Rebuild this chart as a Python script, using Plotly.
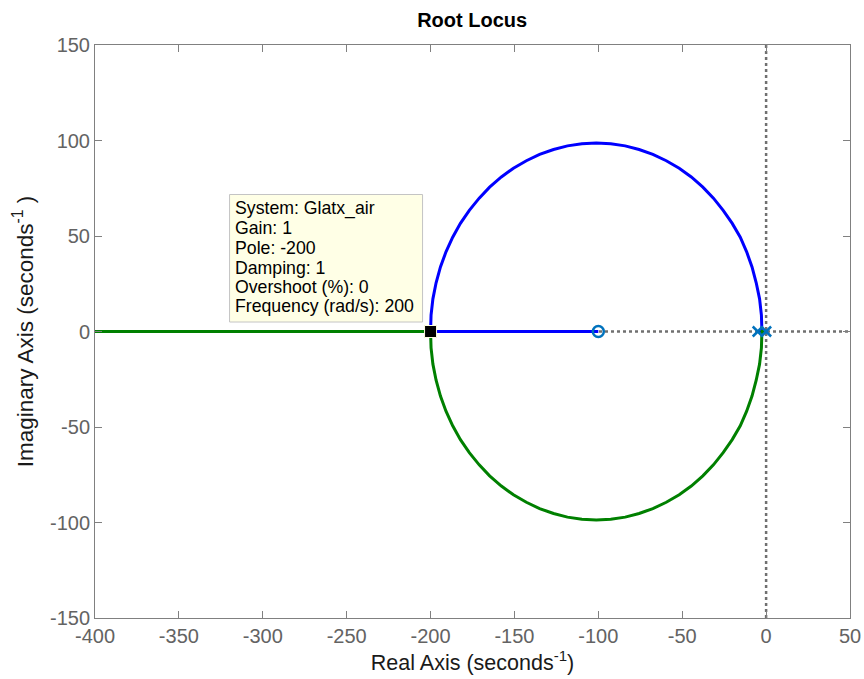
import plotly.graph_objects as go

# Branch 1 (blue): from pole near origin, upper arc, then along real axis to zero
blue_x = [-5.0, -2.5, -2.8, -3.9, -5.9, -8.4, -11.6, -15.4, -20.2, -25.6, -31.4, -37.7, -44.6,
          -51.8, -59.5, -67.5, -75.7, -84.0, -92.6, -101.2, -109.8, -118.4, -126.7, -135.0,
          -142.9, -150.6, -157.8, -164.8, -171.0, -176.9, -182.2, -186.8, -190.8, -194.1,
          -196.7, -198.6, -199.7, -200.0, -170.0, -140.0, -120.0, -100.0]
blue_y = [0.0, 0.0, 8.6, 17.1, 25.5, 33.8, 41.7, 49.4, 56.6, 63.4, 69.8, 75.6, 80.9,
          85.5, 89.4, 92.7, 95.3, 97.2, 98.3, 98.7, 98.3, 97.2, 95.3, 92.7,
          89.4, 85.5, 80.9, 75.6, 69.8, 63.4, 56.6, 49.4, 41.7, 33.8,
          25.5, 17.1, 8.6, 0.0, 0.0, 0.0, 0.0, 0.0]

# Branch 2 (green): from pole at origin, lower arc, then along real axis toward -infinity
green_x = [0.0, -2.5, -2.8, -3.9, -5.9, -8.4, -11.6, -15.4, -20.2, -25.6, -31.4, -37.7, -44.6,
           -51.8, -59.5, -67.5, -75.7, -84.0, -92.6, -101.2, -109.8, -118.4, -126.7, -135.0,
           -142.9, -150.6, -157.8, -164.8, -171.0, -176.9, -182.2, -186.8, -190.8, -194.1,
           -196.7, -198.6, -199.7, -200.0, -250.0, -300.0, -350.0, -400.0, -450.0]
green_y = [0.0, 0.0, -8.6, -17.1, -25.5, -33.8, -41.7, -49.4, -56.6, -63.4, -69.8, -75.6, -80.9,
           -85.5, -89.4, -92.7, -95.3, -97.2, -98.3, -98.7, -98.3, -97.2, -95.3, -92.7,
           -89.4, -85.5, -80.9, -75.6, -69.8, -63.4, -56.6, -49.4, -41.7, -33.8,
           -25.5, -17.1, -8.6, 0.0, 0.0, 0.0, 0.0, 0.0, 0.0]

pole_x = [0.0, -5.0]
pole_y = [0.0, 0.0]
zero_x = [-100.0]
zero_y = [0.0]

tip_x = [-200.0]
tip_y = [0.0]
tip_lines = ["System: Glatx_air", "Gain: 1", "Pole: -200", "Damping: 1",
             "Overshoot (%): 0", "Frequency (rad/s): 200"]

x_ticks = [-400, -350, -300, -250, -200, -150, -100, -50, 0, 50]
y_ticks = [-150, -100, -50, 0, 50, 100, 150]

FONT = "Liberation Sans, Arial, Helvetica, sans-serif"
GRAY = "#636363"

fig = go.Figure()

# dotted axis lines at 0
fig.add_trace(go.Scatter(x=[-400, 50], y=[0, 0], mode="lines",
                         line=dict(color="#707070", width=2.5, dash="dot"),
                         hoverinfo="skip", showlegend=False))
fig.add_trace(go.Scatter(x=[0, 0], y=[-150, 150], mode="lines",
                         line=dict(color="#707070", width=2.5, dash="dot"),
                         hoverinfo="skip", showlegend=False))

fig.add_trace(go.Scatter(x=blue_x, y=blue_y, mode="lines",
                         line=dict(color="#0000ff", width=3), showlegend=False))
fig.add_trace(go.Scatter(x=green_x, y=green_y, mode="lines",
                         line=dict(color="#008000", width=3), showlegend=False))

fig.add_trace(go.Scatter(x=pole_x, y=pole_y, mode="markers",
                         marker=dict(symbol="x-thin", size=10, color="#0072bd",
                                     line=dict(color="#0072bd", width=2.5)),
                         showlegend=False))
fig.add_trace(go.Scatter(x=zero_x, y=zero_y, mode="markers",
                         marker=dict(symbol="circle-open", size=11, color="#0072bd",
                                     line=dict(color="#0072bd", width=2.5)),
                         showlegend=False))

fig.add_trace(go.Scatter(x=tip_x, y=tip_y, mode="markers",
                         marker=dict(symbol="square", size=12, color="black",
                                     line=dict(color="#ffffe0", width=1)),
                         showlegend=False))

# data tip box anchored at the tip point (pixel offsets)
fig.add_shape(type="rect", xref="x", yref="y",
              xsizemode="pixel", ysizemode="pixel",
              xanchor=tip_x[0], yanchor=tip_y[0],
              x0=-201, x1=-8, y0=9.5, y1=137,
              fillcolor="#ffffe6", line=dict(color="#c4c4c4", width=1), layer="above")
line_shifts = [123.5, 103.5, 84.0, 64.0, 45.0, 25.5]
for txt, ys in zip(tip_lines, line_shifts):
    fig.add_annotation(x=tip_x[0], y=tip_y[0], xref="x", yref="y", text=txt,
                       showarrow=False, xanchor="left", yanchor="middle",
                       xshift=-198, yshift=ys, align="left",
                       font=dict(family=FONT, size=17.7, color="black"))

axis_common = dict(showgrid=False, zeroline=False, showline=True, linecolor="#808080",
                   linewidth=1, mirror="ticks", ticks="inside", ticklen=7, automargin=False,
                   tickcolor="#808080", tickfont=dict(family=FONT, size=20, color=GRAY))

fig.update_xaxes(range=[-400, 50], tickvals=x_ticks, ticktext=[str(v) for v in x_ticks],
                 title=dict(text="Real Axis (seconds<sup>-1</sup>)",
                            font=dict(family=FONT, size=21.5, color="#1a1a1a"), standoff=3),
                 **axis_common)
fig.update_yaxes(range=[-150, 150], tickvals=y_ticks, ticktext=[str(v) for v in y_ticks],
                 title=dict(text="Imaginary Axis (seconds<sup>-1</sup> )",
                            font=dict(family=FONT, size=22.5, color="#1a1a1a"), standoff=10),
                 **axis_common)

fig.update_layout(
    width=864, height=679, autosize=False,
    margin=dict(l=95, r=14, t=45, b=61, autoexpand=False),
    paper_bgcolor="white", plot_bgcolor="white",
    title=dict(text="<b>Root Locus</b>", x=0.5465, xanchor="center", y=0.9705, yanchor="middle",
               font=dict(family=FONT, size=20, color="black")),
)

fig.write_html("out.html", config={"displayModeBar": False},
               post_script="document.body.style.margin='0px';")
